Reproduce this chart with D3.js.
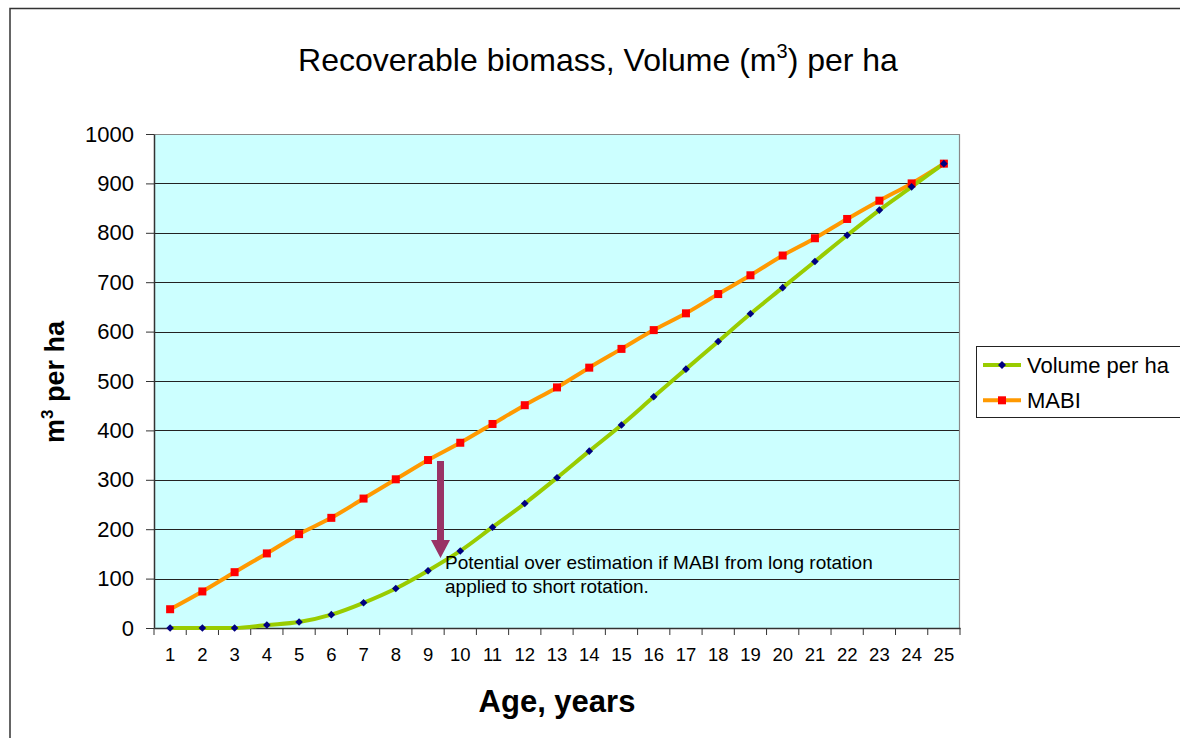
<!DOCTYPE html>
<html><head><meta charset="utf-8">
<script src="https://cdn.jsdelivr.net/npm/d3@7"></script>
<style>body{margin:0;background:#fff}svg{display:block;font-family:Arial,"Liberation Sans",sans-serif}</style>
</head><body><svg id="c" width="1180" height="738"></svg>
<script>
const ages = d3.range(1, 26);
const volume = [0,0,0,6,12,27,51,80,116,156,204,252,304,358,411,468,524,580,636,689,742,795,846,893,940];
const mabi = [38,74,113,151,190,223,262,301,340,375,413,451,487,527,565,603,637,676,714,754,789,828,865,900,940];
const yTicks = [0,100,200,300,400,500,600,700,800,900,1000];

const FF = "Arial,'Liberation Sans',sans-serif";
const svg = d3.select("#c");
const L=154, R=960, T=134, B=628;
const x = d3.scaleBand().domain(ages).range([L,R]);
const y = d3.scaleLinear().domain([0,1000]).range([B,T]);
const cx = d => x(d)+x.bandwidth()/2;

// outer frame
svg.append("path").attr("d","M10,738 L10,8.5 L1180,8.5").attr("fill","none").attr("stroke","#333").attr("stroke-width",1.5);

// title
const title = svg.append("text").attr("x",598).attr("y",71).attr("text-anchor","middle").attr("font-size",32).attr("fill","#000");
title.append("tspan").text("Recoverable biomass, Volume (m");
title.append("tspan").attr("dy",-13).attr("font-size",20).text("3");
title.append("tspan").attr("dy",13).text(") per ha");

// plot bg
svg.append("rect").attr("x",L).attr("y",T).attr("width",R-L).attr("height",B-T).attr("fill","#CCFFFF");
// grid
svg.append("g").selectAll("line").data(yTicks.slice(1,-1)).join("line")
  .attr("x1",L).attr("x2",R).attr("y1",d=>Math.round(y(d))+0.5).attr("y2",d=>Math.round(y(d))+0.5)
  .attr("stroke","#222").attr("stroke-width",1);
// border top/right
svg.append("path").attr("d",`M${L},${T+0.5} H${R-0.5} V${B}`).attr("fill","none").attr("stroke","#888").attr("stroke-width",1.2);

// y axis
const ya = svg.append("g").attr("transform",`translate(${L},0)`)
  .call(d3.axisLeft(y).tickValues(yTicks).tickFormat(d3.format("d")).tickSize(8).tickSizeOuter(0).tickPadding(12));
ya.select(".domain").attr("stroke","#333").attr("stroke-width",1.5);
ya.selectAll(".tick line").attr("stroke","#333");
ya.selectAll("text").attr("font-size",22).attr("fill","#000").attr("font-family",FF);

// x axis
const xa = svg.append("g").attr("transform",`translate(0,${B})`).call(d3.axisBottom(x).tickSize(0).tickPadding(20));
xa.select(".domain").attr("stroke","#333").attr("stroke-width",1.5);
xa.selectAll("text").attr("font-size",18.5).attr("fill","#000").attr("font-family",FF);
svg.append("g").selectAll("line").data(d3.range(0,26)).join("line")
  .attr("x1",i=>L+i*x.step()).attr("x2",i=>L+i*x.step()).attr("y1",B).attr("y2",B+7).attr("stroke","#333");

// lines
const line = d3.line().x((d,i)=>cx(ages[i])).y(d=>y(d)).curve(d3.curveMonotoneX);
svg.append("path").datum(mabi).attr("d",line).attr("fill","none").attr("stroke","#FF9900").attr("stroke-width",4);
svg.append("path").datum(volume).attr("d",line).attr("fill","none").attr("stroke","#99CC00").attr("stroke-width",4);
svg.append("g").selectAll("rect").data(mabi).join("rect")
  .attr("x",(d,i)=>cx(ages[i])-4).attr("y",d=>y(d)-4).attr("width",8).attr("height",8).attr("fill","#FF0000");
svg.append("g").selectAll("path").data(volume).join("path")
  .attr("d","M0,-3.8 L3.8,0 L0,3.8 L-3.8,0 Z").attr("transform",(d,i)=>`translate(${cx(ages[i])},${y(d)})`).attr("fill","#000080");

// arrow
svg.append("path").attr("d","M437,461 H444 V540 H450 L440.5,558 L431,540 H437 Z").attr("fill","#993366");
const ann = svg.append("text").attr("font-size",19).attr("fill","#000");
ann.append("tspan").attr("x",445).attr("y",569).text("Potential over estimation if MABI from long rotation");
ann.append("tspan").attr("x",445).attr("y",593).text("applied to short rotation.");

// axis titles
const yt = svg.append("text").attr("transform","translate(64,382) rotate(-90)").attr("text-anchor","middle").attr("font-size",27).attr("font-weight","bold");
yt.append("tspan").text("m");
yt.append("tspan").attr("dy",-11).attr("font-size",17).text("3");
yt.append("tspan").attr("dy",11).text(" per ha");
svg.append("text").attr("x",557).attr("y",712).attr("text-anchor","middle").attr("font-size",31).attr("font-weight","bold").text("Age, years");

// legend
svg.append("rect").attr("x",976.5).attr("y",346.5).attr("width",230).attr("height",71).attr("fill","#fff").attr("stroke","#222");
const leg = [{n:"Volume per ha",c:"#99CC00",m:"d"},{n:"MABI",c:"#FF9900",m:"s"}];
leg.forEach((l,i)=>{
  const yy = 365 + i*35.3;
  svg.append("line").attr("x1",983).attr("x2",1021).attr("y1",yy).attr("y2",yy).attr("stroke",l.c).attr("stroke-width",4);
  if(l.m==="d") svg.append("path").attr("d","M0,-4 L4,0 L0,4 L-4,0 Z").attr("transform",`translate(1002,${yy})`).attr("fill","#000080");
  else svg.append("rect").attr("x",998).attr("y",yy-4).attr("width",8).attr("height",8).attr("fill","#FF0000");
  svg.append("text").attr("x",1027).attr("y",yy+8).attr("font-size",22).text(l.n);
});
</script></body></html>
